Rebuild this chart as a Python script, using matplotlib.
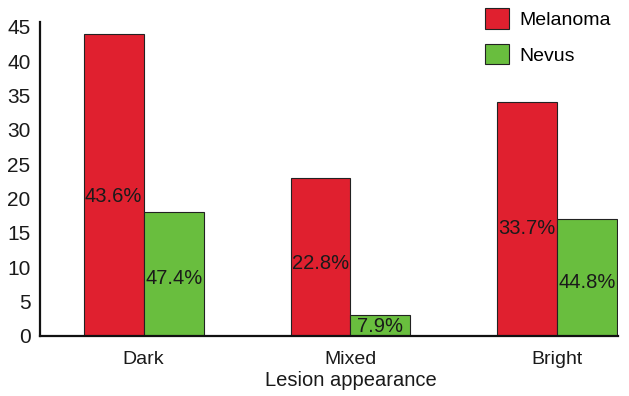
import numpy as np
import matplotlib
matplotlib.use("Agg")
import matplotlib.pyplot as plt

categories = ["Dark", "Mixed", "Bright"]
melanoma = [44, 23, 34]
nevus = [18, 3, 17]
melanoma_pct = ["43.6%", "22.8%", "33.7%"]
nevus_pct = ["47.4%", "7.9%", "44.8%"]

plt.rcParams['font.family'] = ['Liberation Sans', 'DejaVu Sans']

red = '#E0202F'
green = '#69BE3E'
w = 0.29

fig = plt.figure(figsize=(6.29, 3.96), dpi=100)
ax = fig.add_axes([0.064, 0.152, 0.919, 0.792])

x = np.arange(len(categories))
ax.bar(x - w / 2, melanoma, w, color=red, edgecolor='#222222', linewidth=0.8, label='Melanoma')
ax.bar(x + w / 2, nevus, w, color=green, edgecolor='#222222', linewidth=0.8, label='Nevus')

# percentage labels inside the bars
for xi, h, t in zip(x - w / 2, melanoma, melanoma_pct):
    ax.text(xi, h * 0.46, t, ha='center', va='center', fontsize=14.5, color='#1a1a1a')
for xi, h, t in zip(x + w / 2, nevus, nevus_pct):
    ax.text(xi, h * 0.46, t, ha='center', va='center', fontsize=14.5, color='#1a1a1a')

ax.set_xlim(-0.5, 2.295)
ax.set_ylim(0, 45.7)
ax.set_yticks(range(0, 50, 5))
ax.set_xticks(x)
ax.set_xticklabels(categories)
ax.tick_params(axis='both', length=0, labelsize=15, colors='#1a1a1a')
ax.tick_params(axis='x', pad=11, labelsize=14)
ax.tick_params(axis='y', pad=7)

for s in ['top', 'right']:
    ax.spines[s].set_visible(False)
for s in ['left', 'bottom']:
    ax.spines[s].set_linewidth(1.6)
    ax.spines[s].set_color('#111111')

ax.set_xlabel('Lesion appearance', fontsize=14.5, color='#1a1a1a')
ax.xaxis.set_label_coords(1, -0.112, transform=ax.get_xaxis_transform())

ax.legend(loc='upper left', bbox_to_anchor=(0.739, 1.1), frameon=False, fontsize=14,
          handlelength=1.25, handleheight=1.25, handletextpad=0.5, labelspacing=0.75)

fig.savefig('out.png', dpi=100)
